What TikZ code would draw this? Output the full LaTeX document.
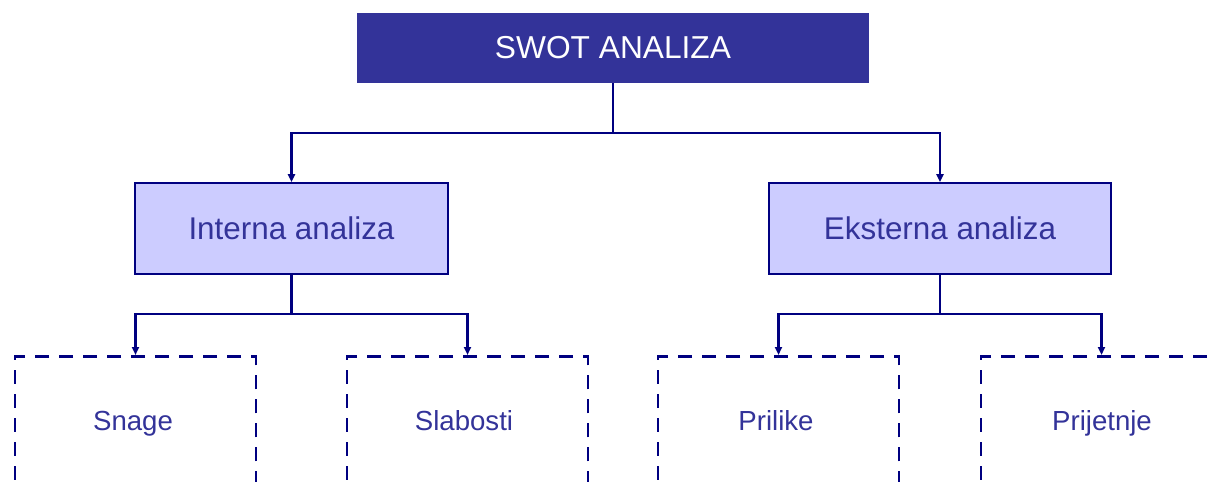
\documentclass[tikz,border=0pt]{standalone}
\usepackage{fontspec}
\setmainfont{Liberation Sans}
\usetikzlibrary{arrows.meta}
\definecolor{topfill}{HTML}{333399}
\definecolor{navy}{HTML}{000080}
\definecolor{midfill}{HTML}{CCCCFF}
\definecolor{txtblue}{HTML}{333399}
\tikzset{
  topbox/.style={rectangle, fill=topfill, draw=none, minimum width=512pt, minimum height=70pt, inner sep=0pt, text=white, font=\fontsize{31.7}{36}\selectfont},
  midbox/.style={rectangle, fill=midfill, draw=navy, line width=1.6pt, minimum height=91pt, inner sep=0pt, text=txtblue, font=\fontsize{31.4}{36}\selectfont},
  dashbox/.style={rectangle, draw=navy, line width=2.6pt, dash pattern=on 14pt off 10pt, minimum width=241pt, minimum height=200pt, inner sep=0pt},
  lbl/.style={text=txtblue, font=\fontsize{27.6}{32}\selectfont, inner sep=0pt, anchor=base},
  conn/.style={draw=navy, line width=2.6pt, -{Triangle[length=8pt,width=7pt]}},
}
\begin{document}
\begin{tikzpicture}[x=1pt,y=-1pt]
\useasboundingbox (0,0) rectangle (1216,482);
\clip (0,0) rectangle (1216,482);
\node[topbox] (top) at (613,48) {SWOT ANALIZA};
\node[midbox, minimum width=313pt] (int) at (291.5,228.5) {Interna analiza};
\node[midbox, minimum width=342pt] (ext) at (940,228.5) {Eksterna analiza};
\node[dashbox, anchor=north] (sn) at (135.5,355) {};
\node[dashbox, anchor=north] (sl) at (467.5,355) {};
\node[dashbox, anchor=north] (pr) at (778.5,355) {};
\node[dashbox, anchor=north] (pj) at (1101.5,355) {};
\node[lbl] (snl) at (133,430) {Snage};
\node[lbl] (sll) at (464,430) {Slabosti};
\node[lbl] (prl) at (776,430) {Prilike};
\node[lbl] (pjl) at (1102,430) {Prijetnje};
\coordinate (j1) at (613,133);
\coordinate (j2) at (291.5,314);
\coordinate (j3) at (940,314);
\draw[navy, line width=2.6pt] (top.south) -- (j1);
\draw[conn] (j1) -| (int.north);
\draw[conn] (j1) -| (ext.north);
\draw[navy, line width=2.6pt] (int.south) -- (j2);
\draw[conn] (j2) -| (sn.north);
\draw[conn] (j2) -| (sl.north);
\draw[navy, line width=2.6pt] (ext.south) -- (j3);
\draw[conn] (j3) -| (pr.north);
\draw[conn] (j3) -| (pj.north);
\end{tikzpicture}
\end{document}
